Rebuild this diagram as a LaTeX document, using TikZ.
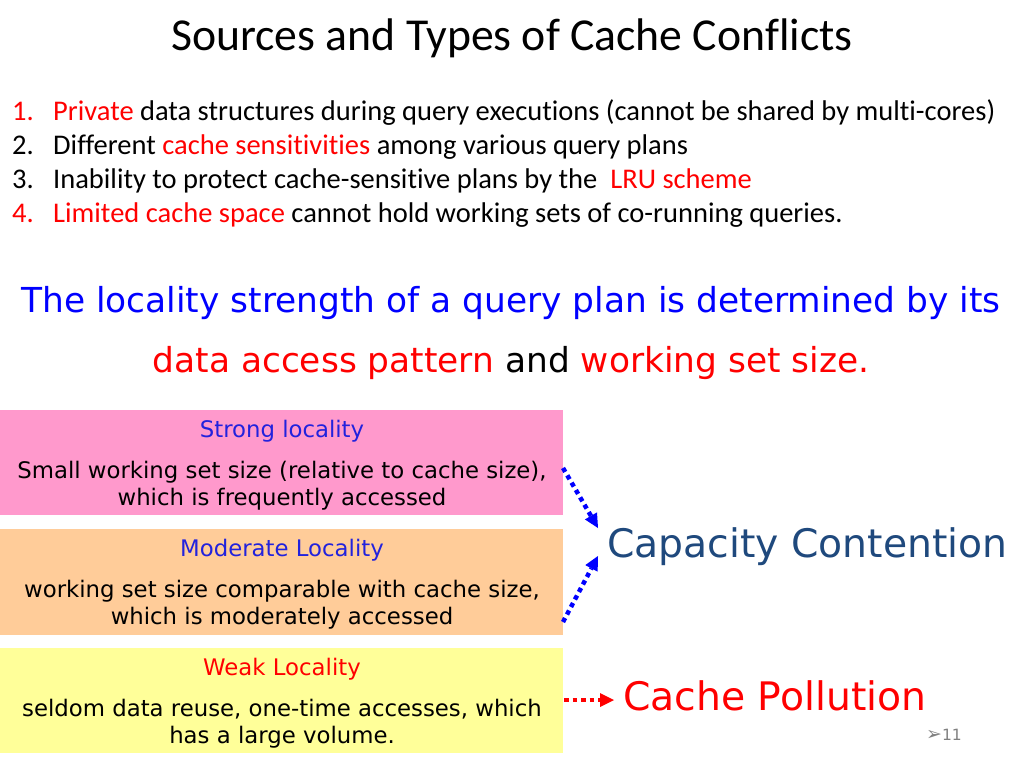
\documentclass[tikz,border=0pt]{standalone}
\usepackage{fontspec}
\setmainfont[Ligatures={NoCommon}]{Carlito}
\newfontfamily\verd{DejaVu Sans}
\usetikzlibrary{arrows.meta}
\definecolor{pinkbox}{HTML}{FF99CC}
\definecolor{peachbox}{HTML}{FFCC99}
\definecolor{yellowbox}{HTML}{FFFF99}
\definecolor{myred}{HTML}{FF0000}
\definecolor{myblue}{HTML}{0000FF}
\definecolor{headblue}{HTML}{2222DD}
\definecolor{steel}{HTML}{1F497D}
\definecolor{numgray}{HTML}{808080}
\tikzset{
  box/.style={draw=none, minimum width=563pt, inner sep=0pt, anchor=north west},
  lst/.style={anchor=base west, inner sep=0pt, font=\fontsize{28.5}{32}\selectfont},
  head/.style={anchor=base, inner sep=0pt, font=\verd\fontsize{22.8}{26}\selectfont},
  body/.style={anchor=base, inner sep=0pt, font=\verd\fontsize{22.8}{26}\selectfont},
  big/.style={anchor=base west, inner sep=0pt, font=\verd\fontsize{39.3}{44}\selectfont},
  loc/.style={anchor=base, inner sep=0pt, font=\verd\fontsize{34.4}{38}\selectfont},
  darr/.style={line width=4.5pt, dash pattern=on 4.5pt off 4pt, -{Triangle[length=14pt,width=14pt,line width=0pt]}}
}
\begin{document}
\begin{tikzpicture}[x=1pt,y=-1pt]
\useasboundingbox (0,0) rectangle (1024,768);
\fill[white] (0,0) rectangle (1024,768);
% title
\node[anchor=base, inner sep=0pt, font=\fontsize{45.7}{50}\selectfont] (title) at (512,50) {Sources and Types of Cache Conflicts};
% list
\node[lst, text=myred] (n1) at (12,120) {1.};
\node[lst] (t1) at (53,120) {\textcolor{myred}{Private} data structures during query executions (cannot be shared by multi-cores)};
\node[lst] (n2) at (12,154) {2.};
\node[lst] (t2) at (53,154) {Different \textcolor{myred}{cache sensitivities} among various query plans};
\node[lst] (n3) at (12,188) {3.};
\node[lst] (t3) at (53,188) {Inability to protect cache-sensitive plans by the\ \ \textcolor{myred}{LRU scheme}};
\node[lst, text=myred] (n4) at (12,222) {4.};
\node[lst] (t4) at (53,222) {\textcolor{myred}{Limited cache space} cannot hold working sets of co-running queries.};
% locality statement
\node[loc, text=myblue] (l1) at (511,312) {The locality strength of a query plan is determined by its};
\node[loc] (l2) at (511,372) {\textcolor{myred}{data access pattern} and \textcolor{myred}{working set size.}};
% boxes
\node[box, fill=pinkbox, minimum height=105pt] (b1) at (0,410) {};
\node[box, fill=peachbox, minimum height=106pt] (b2) at (0,529) {};
\node[box, fill=yellowbox, minimum height=105pt] (b3) at (0,648) {};
\node[head, text=headblue] (h1) at (282,437) {Strong locality};
\node[body] (s1a) at (282,478) {Small working set size (relative to cache size),};
\node[body] (s1b) at (282,505) {which is frequently accessed};
\node[head, text=headblue] (h2) at (282,556) {Moderate Locality};
\node[body] (s2a) at (282,597) {working set size comparable with cache size,};
\node[body] (s2b) at (282,624) {which is moderately accessed};
\node[head, text=myred] (h3) at (282,675) {Weak Locality};
\node[body] (s3a) at (282,716) {seldom data reuse, one-time accesses, which};
\node[body] (s3b) at (282,743) {has a large volume.};
% targets
\node[big, text=steel] (cc) at (607,557) {Capacity Contention};
\node[big, text=myred] (cp) at (623,710) {Cache Pollution};
% arrows
\coordinate (a1s) at (563,468);
\coordinate (a1e) at (598,528);
\coordinate (a2s) at (563,622);
\coordinate (a2e) at (598,556);
\coordinate (a3s) at (564,700);
\coordinate (a3e) at (614,700);
\draw[darr, myblue] (a1s) -- (a1e);
\draw[darr, myblue] (a2s) -- (a2e);
\draw[darr, myred] (a3s) -- (a3e);
% slide number
\node[anchor=base west, inner sep=0pt, text=numgray, font=\verd\fontsize{15.5}{18}\selectfont] (pg) at (926,740) {{\fontsize{19}{18}\selectfont ➢}11};
\end{tikzpicture}
\end{document}
